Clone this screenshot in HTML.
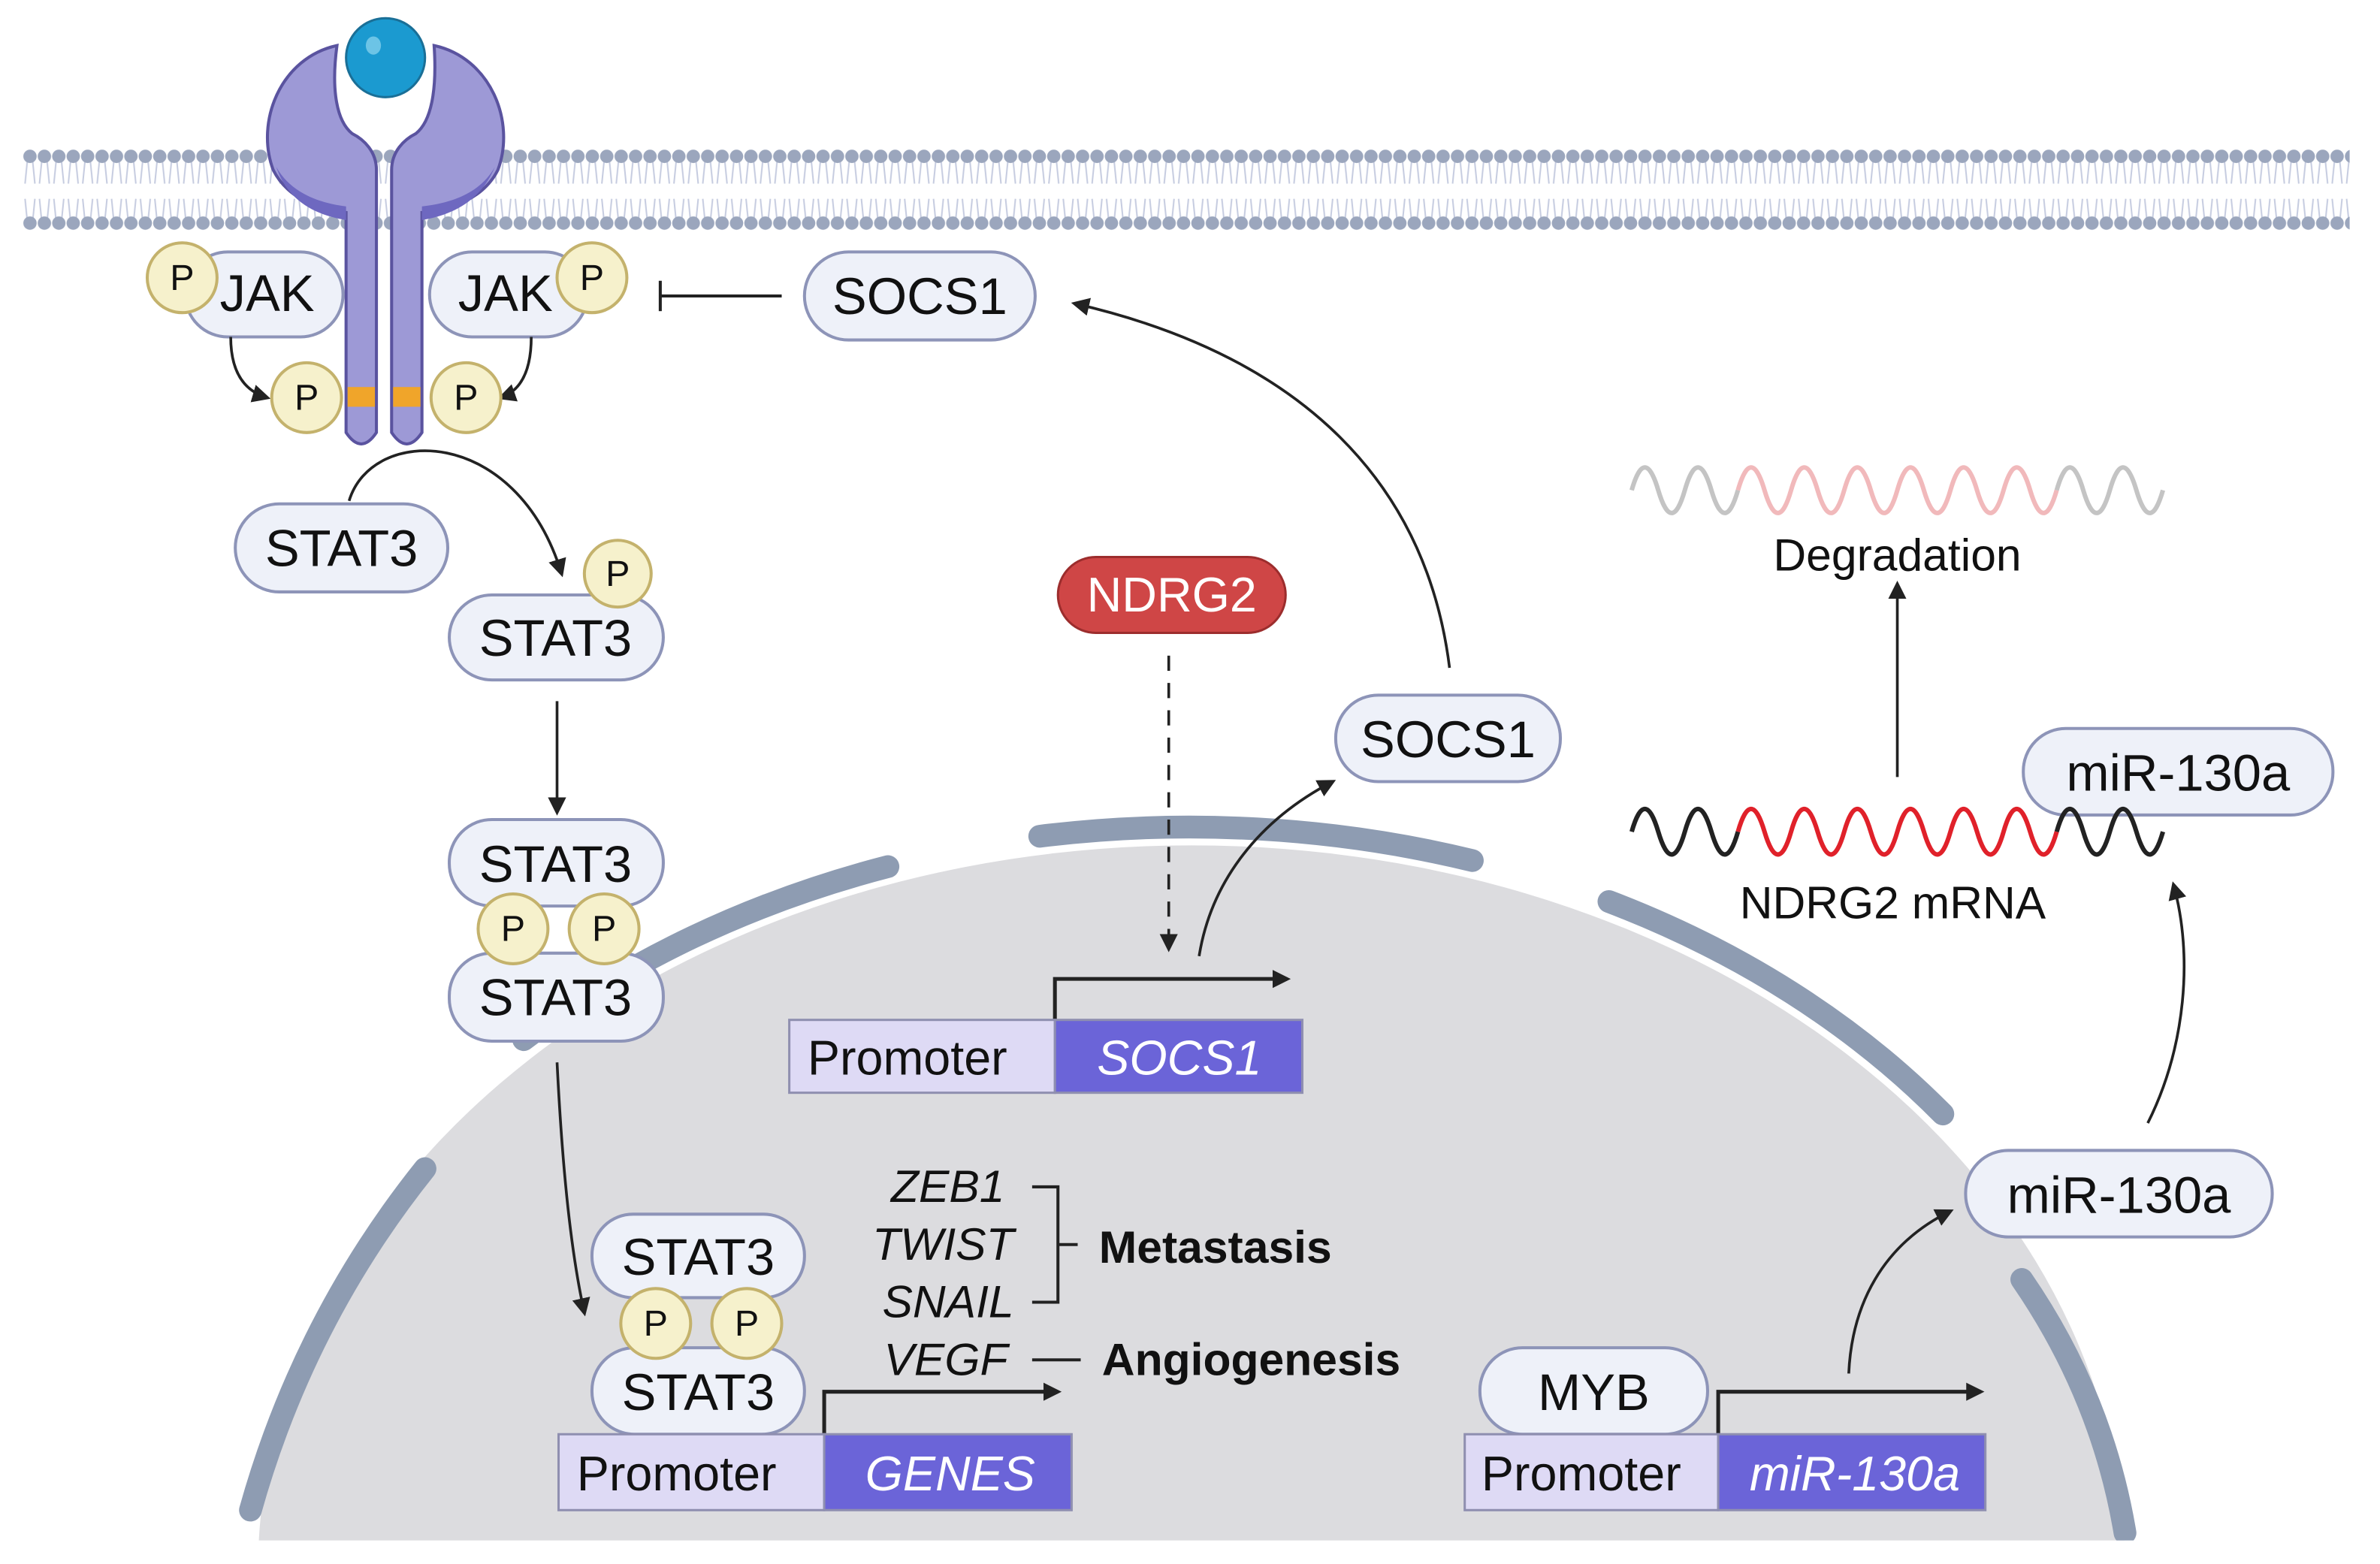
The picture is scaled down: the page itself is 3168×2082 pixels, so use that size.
<!DOCTYPE html>
<html><head><meta charset="utf-8"><style>
html,body{margin:0;padding:0;background:#fff;width:3168px;height:2082px;overflow:hidden;}
svg{display:block;}
text{font-family:"Liberation Sans",sans-serif;}
</style></head><body>
<svg width="3168" height="2082" viewBox="0 0 1568 1030.5" preserveAspectRatio="none" xmlns="http://www.w3.org/2000/svg">
<defs>
<marker id="ah2" viewBox="0 0 10 10" refX="8" refY="5" markerWidth="12" markerHeight="12" orient="auto" markerUnits="userSpaceOnUse"><path d="M0,0 L10,5 L0,10 z" fill="#222"/></marker>
<pattern id="mem" x="15" y="97" width="9.5" height="58" patternUnits="userSpaceOnUse">
<path d="M3,9 L1.5,24 M6.5,9 L8,24 M3,49 L1.5,34 M6.5,49 L8,34" stroke="#c6cce0" stroke-width="1" fill="none"/>
<circle cx="4.75" cy="6" r="4.4" fill="#9ba6bd"/>
<circle cx="4.75" cy="50" r="4.4" fill="#9ba6bd"/>
</pattern>
<clipPath id="cl"><rect x="0" y="0" width="1568" height="1015"/></clipPath>
</defs>
<rect width="1568" height="1030.5" fill="#fff"/>
<rect x="15" y="97" width="1533" height="58" fill="url(#mem)"/>
<g clip-path="url(#cl)">
<ellipse cx="785" cy="1035" rx="615" ry="478" fill="#dcdcdf"/>
<g fill="none" stroke="#8e9cb2" stroke-width="15" stroke-linecap="round">
<path d="M685,551 A625 485 0 0 1 970,567"/>
<path d="M1060,594 A625 485 0 0 1 1280,734"/>
<path d="M1332,843 Q1385,920 1400,1010"/>
<path d="M345,685 A625 485 0 0 1 585,571"/>
<path d="M280,770 Q200,870 165,995"/>
</g>
</g>
<g stroke="#5a539f" stroke-width="2" fill="#9d99d6">
<path d="M222,30 C185,38 168,80 180,112 C190,132 212,138 228,140 L228,285 Q238,300 248,285 L248,112 C248,100 240,92 232,88 C222,80 218,60 222,30 z"/>
<path d="M286,30 C323,38 340,80 328,112 C318,132 296,138 278,140 L278,285 Q268,300 258,285 L258,112 C258,100 266,92 274,88 C284,80 288,60 286,30 z"/>
</g>
<path d="M182,110 C192,128 212,134 228,136 L228,145 C210,142 190,134 182,110z" fill="#6e68c0"/>
<path d="M326,110 C316,128 296,134 278,136 L278,145 C296,142 316,134 326,110z" fill="#6e68c0"/>
<circle cx="254" cy="38" r="31" fill="#fff"/>
<circle cx="254" cy="38" r="26" fill="#1b9ad0" stroke="#1a6f97" stroke-width="1.5"/>
<ellipse cx="246" cy="30" rx="5" ry="6" fill="#6cc4e6"/>
<rect x="229" y="255" width="18" height="13" fill="#f0a52a"/>
<rect x="259" y="255" width="18" height="13" fill="#f0a52a"/>
<g fill="#eef1f9" stroke="#8d94b8" stroke-width="2">
<rect x="122" y="166" width="104" height="56" rx="28"/>
<rect x="283" y="166" width="104" height="56" rx="28"/>
</g>
<g font-size="34" text-anchor="middle" fill="#111">
<text x="176" y="205">JAK</text><text x="333" y="205">JAK</text>
</g>
<path d="M152,222 Q152,255 176,262" fill="none" stroke="#222" stroke-width="1.8" marker-end="url(#ah2)"/>
<path d="M350,222 Q350,255 330,262" fill="none" stroke="#222" stroke-width="1.8" marker-end="url(#ah2)"/>
<line x1="515" y1="195" x2="435" y2="195" stroke="#222" stroke-width="2"/>
<line x1="435" y1="185" x2="435" y2="205" stroke="#222" stroke-width="2"/>
<g fill="#eef1f9" stroke="#8d94b8" stroke-width="2">
<rect x="530" y="166" width="152" height="58" rx="29"/>
<rect x="155" y="332" width="140" height="58" rx="29"/>
<rect x="296" y="392" width="141" height="56" rx="28"/>
<rect x="296" y="540" width="141" height="57" rx="28"/>
<rect x="296" y="628" width="141" height="58" rx="28"/>
<rect x="880" y="458" width="148" height="57" rx="28"/>
<rect x="390" y="800" width="140" height="55" rx="27"/>
<rect x="390" y="888" width="140" height="57" rx="28"/>
<rect x="975" y="888" width="150" height="57" rx="28"/>
<rect x="1295" y="758" width="202" height="57" rx="28"/>
<rect x="1333" y="480" width="204" height="57" rx="28"/>
</g>
<rect x="697" y="367" width="150" height="50" rx="25" fill="#cf4646" stroke="#9c2d2d" stroke-width="1.5"/>
<g fill="#f6f1cc" stroke="#c4b26c" stroke-width="2">
<circle cx="120" cy="183" r="23"/><circle cx="390" cy="183" r="23"/>
<circle cx="202" cy="262" r="23"/><circle cx="307" cy="262" r="23"/>
<circle cx="407" cy="378" r="22"/>
<circle cx="338" cy="612" r="23"/><circle cx="398" cy="612" r="23"/>
<circle cx="432" cy="872" r="23"/><circle cx="492" cy="872" r="23"/>
</g>
<g font-size="24" text-anchor="middle" fill="#111">
<text x="120" y="191">P</text><text x="390" y="191">P</text>
<text x="202" y="270">P</text><text x="307" y="270">P</text>
<text x="407" y="386">P</text>
<text x="338" y="620">P</text><text x="398" y="620">P</text>
<text x="432" y="880">P</text><text x="492" y="880">P</text>
</g>
<g font-size="34" text-anchor="middle" fill="#111">
<text x="606" y="207">SOCS1</text>
<text x="225" y="373">STAT3</text>
<text x="366" y="432">STAT3</text>
<text x="366" y="581">STAT3</text>
<text x="366" y="669">STAT3</text>
<text x="954" y="499">SOCS1</text>
<text x="460" y="840">STAT3</text>
<text x="460" y="929">STAT3</text>
<text x="1050" y="929">MYB</text>
<text x="1396" y="799">miR-130a</text>
<text x="1435" y="521">miR-130a</text>
<text x="772" y="403" fill="#fff" font-size="32">NDRG2</text>
</g>
<g fill="none" stroke="#222" stroke-width="1.8">
<path d="M230,330 C245,280 340,280 370,378" marker-end="url(#ah2)"/>
<path d="M367,462 L367,535" marker-end="url(#ah2)"/>
<path d="M367,700 C370,760 375,820 385,865" marker-end="url(#ah2)"/>
<path d="M770,432 L770,625" stroke-dasharray="10,8" marker-end="url(#ah2)"/>
<path d="M790,630 C798,580 830,540 878,515" marker-end="url(#ah2)"/>
<path d="M955,440 C940,320 860,235 708,200" marker-end="url(#ah2)"/>
<path d="M1218,905 C1220,860 1240,820 1285,798" marker-end="url(#ah2)"/>
<path d="M1415,740 C1440,690 1445,630 1432,583" marker-end="url(#ah2)"/>
<path d="M1250,512 L1250,385" marker-end="url(#ah2)"/>
</g>
<g fill="none" stroke="#222" stroke-width="2.5">
<path d="M695,672 L695,645 L848,645" marker-end="url(#ah2)"/>
<path d="M543,945 L543,917 L697,917" marker-end="url(#ah2)"/>
<path d="M1132,945 L1132,917 L1305,917" marker-end="url(#ah2)"/>
</g>
<g stroke="#8f8fb0" stroke-width="1.5">
<rect x="520" y="672" width="175" height="48" fill="#dedaf5"/>
<rect x="695" y="672" width="163" height="48" fill="#6b64d8"/>
<rect x="368" y="945" width="175" height="50" fill="#dedaf5"/>
<rect x="543" y="945" width="163" height="50" fill="#6b64d8"/>
<rect x="965" y="945" width="167" height="50" fill="#dedaf5"/>
<rect x="1132" y="945" width="176" height="50" fill="#6b64d8"/>
</g>
<g font-size="32" fill="#111">
<text x="532" y="708">Promoter</text>
<text x="380" y="982">Promoter</text>
<text x="976" y="982">Promoter</text>
</g>
<g font-size="32" fill="#fff" font-style="italic" text-anchor="middle">
<text x="777" y="708">SOCS1</text>
<text x="626" y="982">GENES</text>
<text x="1222" y="982">miR-130a</text>
</g>
<g font-size="30" font-style="italic" fill="#111" text-anchor="end">
<text x="662" y="792">ZEB1</text>
<text x="668" y="830">TWIST</text>
<text x="668" y="868">SNAIL</text>
<text x="664" y="906">VEGF</text>
</g>
<path d="M680,782 L697,782 L697,858 L680,858 M697,820 L710,820 M680,896 L712,896" fill="none" stroke="#222" stroke-width="2"/>
<g font-size="30" font-weight="bold" fill="#111">
<text x="724" y="832">Metastasis</text>
<text x="726" y="906">Angiogenesis</text>
</g>
<g fill="none" stroke-width="3">
<path d="M1075,548 q8.6,-30 17.5,0 t17.5,0 t17.5,0 t17.5,0" stroke="#222"/>
<path d="M1145,548 q8.6,-30 17.5,0 t17.5,0 t17.5,0 t17.5,0 t17.5,0 t17.5,0 t17.5,0 t17.5,0 t17.5,0 t17.5,0 t17.5,0 t17.5,0" stroke="#e0212a"/>
<path d="M1355,548 q8.6,-30 17.5,0 t17.5,0 t17.5,0 t17.5,0" stroke="#222"/>
<path d="M1075,323 q8.6,-30 17.5,0 t17.5,0 t17.5,0 t17.5,0" stroke="#c4c4c4"/>
<path d="M1145,323 q8.6,-30 17.5,0 t17.5,0 t17.5,0 t17.5,0 t17.5,0 t17.5,0 t17.5,0 t17.5,0 t17.5,0 t17.5,0 t17.5,0 t17.5,0" stroke="#f1b9bb"/>
<path d="M1355,323 q8.6,-30 17.5,0 t17.5,0 t17.5,0 t17.5,0" stroke="#c4c4c4"/>
</g>
<g font-size="30" fill="#111" text-anchor="middle">
<text x="1247" y="605">NDRG2 mRNA</text>
<text x="1250" y="376">Degradation</text>
</g>
</svg>
</body></html>
